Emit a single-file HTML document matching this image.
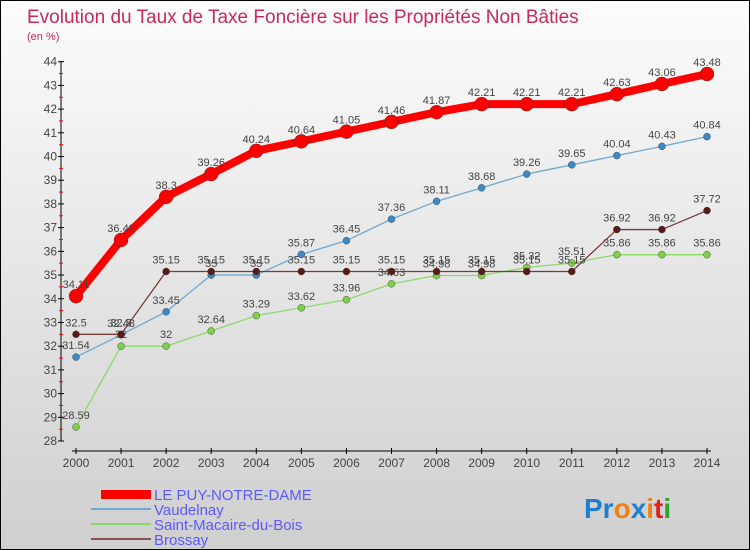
<!DOCTYPE html>
<html><head><meta charset="utf-8"><style>
body{margin:0}
#c{position:relative;width:748px;height:548px;border:1px solid #000;background:linear-gradient(#fcfcfc,#cfcfcf);font-family:"Liberation Sans",sans-serif;overflow:hidden}
</style></head><body>
<div id="c">
<svg id="s" width="748" height="548" xmlns="http://www.w3.org/2000/svg">
<text x="26" y="22" font-size="19" fill="#c8285a">Evolution du Taux de Taxe Foncière sur les Propriétés Non Bâties</text>
<text x="26" y="39" font-size="11" fill="#c8285a">(en %)</text>
<g id="axes"></g><g id="series"></g>
<g>
<rect x="100" y="489" width="50" height="9" fill="#f00"/>
<text x="153" y="499" font-size="15" fill="#5a5aff">LE PUY-NOTRE-DAME</text>
<rect x="90" y="507" width="60" height="2" fill="#6fa8d0"/>
<text x="153" y="514" font-size="15" fill="#5a5aff">Vaudelnay</text>
<rect x="90" y="522" width="60" height="2" fill="#8ed86a"/>
<text x="153" y="529" font-size="15" fill="#5a5aff">Saint-Macaire-du-Bois</text>
<rect x="90" y="537" width="60" height="2" fill="#8a5050"/>
<text x="153" y="544" font-size="15" fill="#5a5aff">Brossay</text>
</g>
<text x="583" y="517" font-size="28" font-weight="bold"><tspan fill="#1e7fd0">Pr</tspan><tspan fill="#f08010">o</tspan><tspan fill="#1e7fd0">x</tspan><tspan fill="#f08010">i</tspan><tspan fill="#e02020">t</tspan><tspan fill="#30a030">i</tspan></text>
</svg></div>
<script>
const years=[2000,2001,2002,2003,2004,2005,2006,2007,2008,2009,2010,2011,2012,2013,2014];
const yTicks=[28,29,30,31,32,33,34,35,36,37,38,39,40,41,42,43,44];
const puy=[34.11,36.48,38.3,39.26,40.24,40.64,41.05,41.46,41.87,42.21,42.21,42.21,42.63,43.06,43.48];
const vaudelnay=[31.54,32.48,33.45,35,35,35.87,36.45,37.36,38.11,38.68,39.26,39.65,40.04,40.43,40.84];
const saintMacaire=[28.59,32,32,32.64,33.29,33.62,33.96,34.63,34.98,34.98,35.32,35.51,35.86,35.86,35.86];
const brossay=[32.5,32.5,35.15,35.15,35.15,35.15,35.15,35.15,35.15,35.15,35.15,35.15,36.92,36.92,37.72];
const NS="http://www.w3.org/2000/svg";
const x=i=>75+i*(706-75)/(years.length-1);
const y=v=>440-(v-28)*(440-60.7)/16;
function mk(t,a,p){const e=document.createElementNS(NS,t);for(const k in a)e.setAttribute(k,a[k]);p.appendChild(e);return e;}
const ax=document.getElementById('axes');
let e=mk('line',{x1:60,y1:60,x2:60,y2:440,stroke:'#000'},ax);


yTicks.forEach(t=>{
 mk('line',{x1:57,y1:y(t),x2:63,y2:y(t),stroke:'#000'},ax);
 if(t<44)mk('line',{x1:58,y1:y(t+0.5),x2:62,y2:y(t+0.5),stroke:'#f00'},ax);
 const l=mk('text',{x:56,y:y(t)+4,'font-size':12,fill:'#444','text-anchor':'end'},ax);l.textContent=t;
 
 
});
e=mk('line',{x1:71,y1:450,x2:710,y2:450,stroke:'#000'},ax);


years.forEach((yr,i)=>{
 mk('line',{x1:x(i),y1:447,x2:x(i),y2:453,stroke:'#000'},ax);
 const l=mk('text',{x:x(i),y:466,'font-size':12,fill:'#444','text-anchor':'middle'},ax);l.textContent=yr;
 
 
});
const sg=document.getElementById('series');
function series(d,name,col,w,r,dot){
 const g=mk('g',{},sg);
 
 
 const p=mk('polyline',{points:d.map((v,i)=>x(i)+','+y(v)).join(' '),fill:'none',stroke:col,'stroke-width':w,'stroke-linejoin':'round'},g);
 
 
 d.forEach((v,i)=>{
  const c=mk('circle',{cx:x(i),cy:y(v),r:r,fill:dot,stroke:'#333','stroke-width':0.4},g);
  
  
  const t=mk('text',{x:x(i),y:y(v)-8,'font-size':11,fill:'#444','text-anchor':'middle'},g);t.textContent=v;
  
  
 });
}
series(saintMacaire,'saint-macaire','#8ed86a',1.3,3.5,'#7ed04a');
series(vaudelnay,'vaudelnay','#6fa8d0',1.3,3.5,'#3a8ac8');
series(brossay,'brossay','#7a3a3a',1.3,3.5,'#5a1a1a');
series(puy,'puy-notre-dame','#f00',8,7,'#f00');
</script>
</body></html>
